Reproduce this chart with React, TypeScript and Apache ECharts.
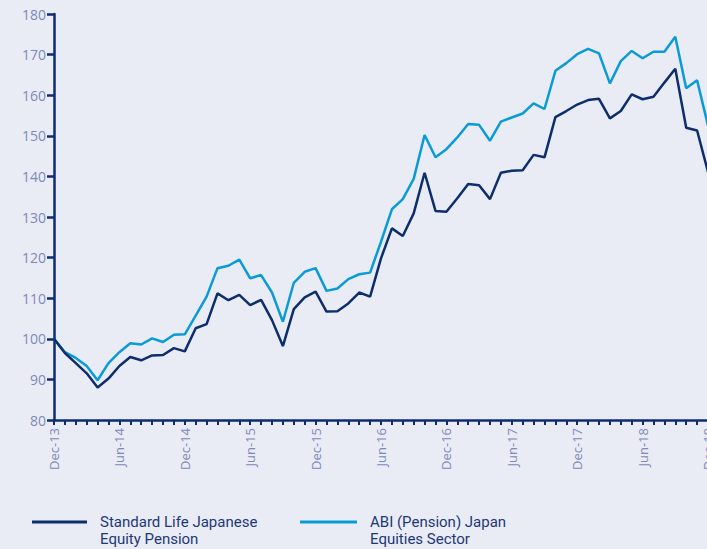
import React, { useEffect, useRef } from "react";
import * as echarts from "echarts";

const months: string[] = [
  "Dec-13",
  "Jan-14", "Feb-14", "Mar-14", "Apr-14", "May-14", "Jun-14", "Jul-14", "Aug-14", "Sep-14", "Oct-14", "Nov-14", "Dec-14",
  "Jan-15", "Feb-15", "Mar-15", "Apr-15", "May-15", "Jun-15", "Jul-15", "Aug-15", "Sep-15", "Oct-15", "Nov-15", "Dec-15",
  "Jan-16", "Feb-16", "Mar-16", "Apr-16", "May-16", "Jun-16", "Jul-16", "Aug-16", "Sep-16", "Oct-16", "Nov-16", "Dec-16",
  "Jan-17", "Feb-17", "Mar-17", "Apr-17", "May-17", "Jun-17", "Jul-17", "Aug-17", "Sep-17", "Oct-17", "Nov-17", "Dec-17",
  "Jan-18", "Feb-18", "Mar-18", "Apr-18", "May-18", "Jun-18", "Jul-18", "Aug-18", "Sep-18", "Oct-18", "Nov-18", "Dec-18",
];

const standardLife: number[] = [
  100, 96.5, 94, 91.5, 88, 90.2, 93.3, 95.5, 94.7, 95.9, 96, 97.7, 96.9,
  102.6, 103.6, 111.2, 109.5, 110.8, 108.3, 109.6, 104.6, 98.2, 107.3, 110.2, 111.6,
  106.7, 106.8, 108.7, 111.4, 110.4, 119.8, 127.2, 125.3, 130.9, 140.9, 131.5, 131.3,
  134.6, 138.1, 137.8, 134.4, 140.9, 141.4, 141.5, 145.3, 144.7, 154.6, 156.1, 157.7,
  158.8, 159.1, 154.3, 156.1, 160.2, 159, 159.6, 163.1, 166.5, 152, 151.3, 141.1,
];

const abiSector: number[] = [
  100, 96.7, 95.3, 93.3, 89.8, 94, 96.7, 98.9, 98.6, 100.1, 99.2, 101, 101.1,
  105.7, 110.4, 117.4, 118, 119.5, 114.9, 115.7, 111.4, 104.2, 113.8, 116.5, 117.4,
  111.8, 112.4, 114.7, 115.9, 116.3, 123.9, 131.9, 134.4, 139.4, 150.2, 144.7, 146.7,
  149.6, 152.9, 152.7, 148.8, 153.5, 154.5, 155.5, 158, 156.6, 166, 167.9, 170.1,
  171.4, 170.3, 162.9, 168.4, 170.9, 169.1, 170.7, 170.7, 174.4, 161.7, 163.7, 152.5,
];

const seriesNames: string[] = [
  "Standard Life Japanese\nEquity Pension",
  "ABI (Pension) Japan\nEquities Sector",
];

const NAVY = "#0d2d6c";
const LIGHT = "#0a9bd7";
const LABEL = "#8088b9";

export default function App() {
  const ref = useRef<HTMLDivElement>(null);
  useEffect(() => {
    if (!ref.current) return;
    const chart = echarts.init(ref.current, undefined, { renderer: "svg" });
    chart.setOption({
      animation: false,
      backgroundColor: "#e9ecf5",
      grid: { left: 54, top: 14, width: 654, height: 406 },
      xAxis: {
        type: "category",
        data: months,
        boundaryGap: false,
        axisLine: { lineStyle: { color: NAVY, width: 2.5 } },
        axisTick: { interval: 0, length: 5, lineStyle: { color: NAVY, width: 2 } },
        axisLabel: {
          interval: 5,
          rotate: 90,
          margin: 8,
          color: LABEL,
          fontFamily: "Open Sans",
          fontSize: 13,
        },
        splitLine: { show: false },
      },
      yAxis: {
        type: "value",
        min: 80,
        max: 180,
        interval: 10,
        axisLine: { show: true, lineStyle: { color: NAVY, width: 2.5 } },
        axisTick: { show: true, length: 7, lineStyle: { color: NAVY, width: 2.5 } },
        axisLabel: {
          color: LABEL,
          fontFamily: "Open Sans",
          fontSize: 14,
          margin: 8,
        },
        splitLine: { show: false },
      },
      series: [
        {
          name: seriesNames[0],
          type: "line",
          data: standardLife,
          showSymbol: false,
          lineStyle: { color: NAVY, width: 2.5 },
          itemStyle: { color: NAVY },
          z: 3,
        },
        {
          name: seriesNames[1],
          type: "line",
          data: abiSector,
          showSymbol: false,
          lineStyle: { color: LIGHT, width: 2.5 },
          itemStyle: { color: LIGHT },
          z: 2,
        },
      ],
      graphic: [
        {
          type: "line",
          shape: { x1: 32, y1: 522, x2: 87, y2: 522 },
          style: { stroke: NAVY, lineWidth: 3 },
        },
        {
          type: "text",
          x: 100,
          y: 513,
          style: {
            text: seriesNames[0],
            fill: "#1d3877",
            font: "15px Roboto",
            lineHeight: 17,
          },
        },
        {
          type: "line",
          shape: { x1: 300, y1: 522, x2: 357, y2: 522 },
          style: { stroke: LIGHT, lineWidth: 3 },
        },
        {
          type: "text",
          x: 370,
          y: 513,
          style: {
            text: seriesNames[1],
            fill: "#1d3877",
            font: "15px Roboto",
            lineHeight: 17,
          },
        },
      ],
    });
    return () => chart.dispose();
  }, []);
  return (
    <div
      style={{
        position: "fixed",
        left: 0,
        top: 0,
        width: 707,
        height: 549,
        overflow: "hidden",
        background: "#e9ecf5",
      }}
    >
      <div ref={ref} style={{ width: 730, height: 549 }} />
    </div>
  );
}
